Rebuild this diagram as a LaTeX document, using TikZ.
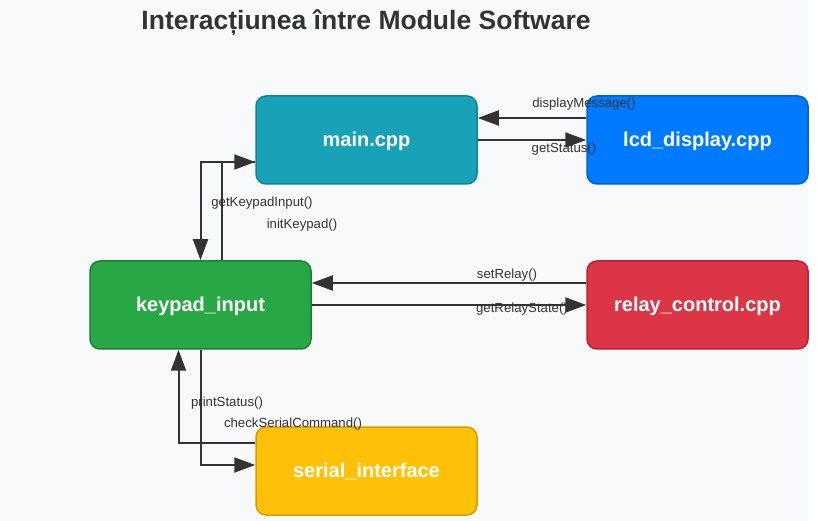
\documentclass[tikz,border=0pt]{standalone}
\usepackage{fontspec}
\setmainfont{Liberation Sans}
\usetikzlibrary{arrows.meta}
\definecolor{bgcol}{HTML}{F8F9FA}
\definecolor{txtcol}{HTML}{333333}
\definecolor{maincol}{HTML}{17A2B8}
\definecolor{mainedge}{HTML}{138496}
\definecolor{lcdcol}{HTML}{007BFF}
\definecolor{lcdedge}{HTML}{0062CC}
\definecolor{keycol}{HTML}{28A745}
\definecolor{keyedge}{HTML}{1E7E34}
\definecolor{relaycol}{HTML}{DC3545}
\definecolor{relayedge}{HTML}{BD2130}
\definecolor{sercol}{HTML}{FFC107}
\definecolor{seredge}{HTML}{D39E00}
\tikzset{
	modstyle/.style={rectangle,rounded corners=10pt,line width=1.5pt,minimum width=221pt,minimum height=88pt,text=white,text depth=1pt,font=\fontsize{20}{24}\selectfont\bfseries},
	lblstyle/.style={text=txtcol,font=\fontsize{13.2}{15}\selectfont,inner sep=0pt},
	connstyle/.style={draw=txtcol,line width=2pt,-{Triangle[length=21pt,width=15pt]}}
}
\begin{document}
\begin{tikzpicture}[x=1pt,y=-1pt]
		\useasboundingbox (0,0) rectangle (817,521);
		\fill[bgcol] (0,0) rectangle (808,521);
		\node[text=txtcol,font=\fontsize{26.5}{30}\selectfont\bfseries] (title) at (366,23) {Interacțiunea între Module Software};
		\node[modstyle,fill=maincol,draw=mainedge] (main) at (366.5,140) {main.cpp};
		\node[modstyle,fill=lcdcol,draw=lcdedge] (lcd) at (697.5,140) {lcd\_display.cpp};
		\node[modstyle,fill=keycol,draw=keyedge] (keypad) at (200.5,305) {keypad\_input};
		\node[modstyle,fill=relaycol,draw=relayedge] (relay) at (697.5,305) {relay\_control.cpp};
		\node[modstyle,fill=sercol,draw=seredge] (serial) at (366.5,471) {serial\_interface};
		% call labels
		\node[lblstyle] (dispmsg) at (584,104) {displayMessage()};
		\node[lblstyle] (getstat) at (564,149) {getStatus()};
		\node[lblstyle] (getkey) at (262,203) {getKeypadInput()};
		\node[lblstyle] (initkey) at (302,225) {initKeypad()};
		\node[lblstyle] (setrel) at (507,275) {setRelay()};
		\node[lblstyle] (getrel) at (522,309) {getRelayState()};
		\node[lblstyle] (prstat) at (227,403) {printStatus()};
		\node[lblstyle] (chkser) at (293,424) {checkSerialCommand()};
		% main <-> lcd
		\draw[connstyle] ([yshift=22pt]lcd.west) -- ([yshift=22pt]main.east);
		\draw[connstyle] (main.east) -- (lcd.west);
		% main <-> keypad
		\draw[connstyle] ([yshift=-22pt]main.west) -| (keypad.north);
		\draw[connstyle] ([xshift=21pt]keypad.north) |- ([yshift=-22pt]main.west);
		% keypad <-> relay
		\draw[connstyle] ([yshift=22pt]relay.west) -- ([yshift=22pt]keypad.east);
		\draw[connstyle] (keypad.east) -- (relay.west);
		% keypad <-> serial
		\draw[connstyle] ([yshift=28pt]serial.west) -| ([xshift=-22pt]keypad.south);
		\draw[connstyle] (keypad.south) |- ([yshift=6pt]serial.west);
\end{tikzpicture}
\end{document}
